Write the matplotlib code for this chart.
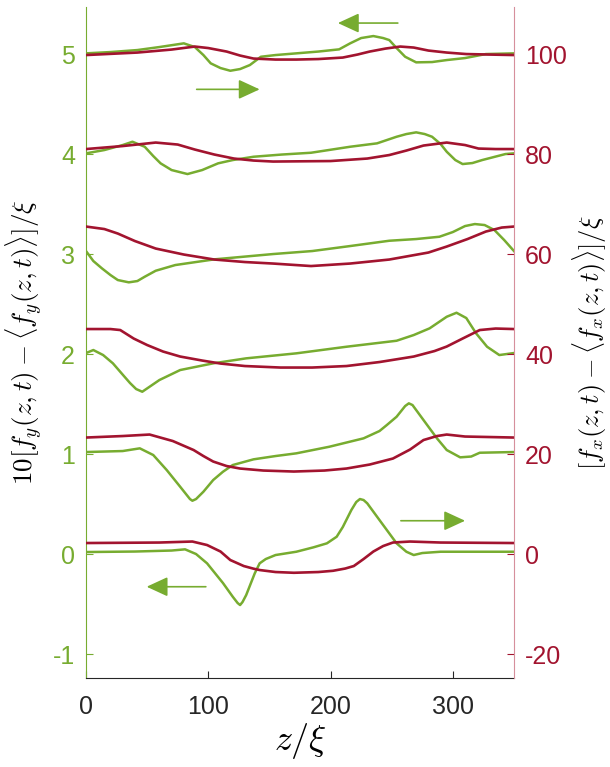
import matplotlib
matplotlib.use("Agg")
import matplotlib.pyplot as plt

plt.rcParams['font.family'] = ['Liberation Sans', 'DejaVu Sans']
plt.rcParams['mathtext.fontset'] = 'cm'
plt.rcParams['axes.unicode_minus'] = False

GREEN = '#77AC30'
RED = '#A2142F'
DARK = '#262626'

# transverse deviation, 10[f_y - <f_y>]/xi, one trace per time step (offset by 1)
z_fy0 = [0, 40, 70, 81, 90, 99, 112, 120, 124, 126, 128, 131, 138, 142, 147, 155, 172, 186, 197, 205, 210, 217, 221, 224, 227, 230, 240, 254, 262, 268, 275, 290, 350]
fy0 = [0.02, 0.025, 0.035, 0.047, 0.0, -0.093, -0.29, -0.427, -0.49, -0.51, -0.48, -0.41, -0.193, -0.093, -0.05, -0.01, 0.023, 0.067, 0.107, 0.173, 0.27, 0.44, 0.52, 0.55, 0.54, 0.507, 0.34, 0.107, 0.023, -0.01, 0.01, 0.023, 0.023]

z_fy1 = [0, 30, 44, 55, 66, 77, 85, 87, 90, 96, 104, 112, 120, 137, 155, 172, 199, 227, 240, 246, 254, 261, 264, 267, 270, 279, 287, 295, 306, 315, 322, 350]
fy1 = [1.02, 1.03, 1.057, 0.99, 0.84, 0.673, 0.55, 0.533, 0.55, 0.623, 0.74, 0.823, 0.89, 0.947, 0.98, 1.007, 1.073, 1.157, 1.23, 1.29, 1.373, 1.48, 1.507, 1.49, 1.44, 1.29, 1.157, 1.04, 0.967, 0.975, 1.013, 1.02]

z_fy2 = [0, 6, 14, 22, 31, 36, 41, 46, 52, 60, 77, 104, 131, 172, 213, 254, 268, 281, 295, 303, 311, 319, 328, 338, 350]
fy2 = [2.01, 2.04, 1.99, 1.907, 1.78, 1.71, 1.65, 1.623, 1.673, 1.74, 1.84, 1.907, 1.957, 2.007, 2.073, 2.133, 2.19, 2.257, 2.373, 2.413, 2.36, 2.207, 2.073, 1.99, 2.01]

z_fy3 = [0, 6, 13, 20, 26, 35, 42, 48, 57, 73, 105, 153, 185, 216, 248, 270, 289, 300, 310, 318, 326, 334, 342, 350]
fy3 = [3.03, 2.93, 2.857, 2.79, 2.74, 2.717, 2.73, 2.773, 2.833, 2.89, 2.947, 3.0, 3.03, 3.08, 3.133, 3.15, 3.173, 3.22, 3.28, 3.3, 3.29, 3.24, 3.14, 3.03]

z_fy4 = [0, 15, 30, 38, 48, 55, 61, 70, 83, 95, 108, 120, 137, 160, 184, 216, 238, 254, 262, 270, 277, 283, 290, 295, 302, 308, 316, 324, 343, 350]
fy4 = [4.007, 4.04, 4.09, 4.123, 4.073, 3.98, 3.907, 3.84, 3.8, 3.84, 3.907, 3.94, 3.973, 3.995, 4.013, 4.073, 4.107, 4.173, 4.2, 4.217, 4.2, 4.173, 4.1, 4.023, 3.94, 3.9, 3.91, 3.94, 4.0, 4.007]

z_fy5 = [0, 20, 42, 60, 80, 89, 96, 102, 110, 118, 126, 134, 143, 155, 172, 190, 207, 216, 225, 235, 243, 248, 254, 261, 270, 283, 295, 310, 327, 350]
fy5 = [5.007, 5.02, 5.04, 5.07, 5.107, 5.07, 4.99, 4.907, 4.86, 4.833, 4.85, 4.89, 4.973, 4.99, 5.007, 5.025, 5.047, 5.107, 5.16, 5.18, 5.16, 5.14, 5.06, 4.973, 4.917, 4.92, 4.94, 4.96, 5.0, 5.007]

# longitudinal deviation, [f_x - <f_x>]/xi (offset by 20)
z_fx0 = [0, 60, 87, 99, 110, 118, 129, 137, 142, 155, 170, 190, 202, 212, 219, 227, 235, 243, 251, 265, 290, 350]
fx0 = [2.2, 2.3, 2.5, 1.8, 0.5, -1.2, -2.4, -2.93, -3.2, -3.6, -3.75, -3.6, -3.35, -2.9, -2.4, -1.0, 0.5, 1.6, 2.3, 2.5, 2.3, 2.2]

z_fx1 = [0, 30, 52, 71, 88, 96, 104, 115, 126, 145, 170, 195, 213, 232, 251, 265, 276, 287, 295, 310, 350]
fx1 = [23.3, 23.6, 23.9, 22.6, 20.8, 19.6, 18.5, 17.6, 17.1, 16.7, 16.5, 16.7, 17.1, 17.9, 19.1, 20.9, 22.8, 23.6, 23.9, 23.5, 23.3]

z_fx2 = [0, 20, 28, 39, 50, 63, 77, 95, 110, 130, 159, 185, 213, 240, 268, 285, 295, 308, 322, 335, 350]
fx2 = [45.0, 45.0, 44.8, 43.1, 41.8, 40.5, 39.5, 38.7, 38.1, 37.6, 37.3, 37.3, 37.6, 38.4, 39.5, 40.6, 41.5, 43.1, 44.8, 45.1, 45.0]

z_fx3 = [0, 15, 26, 40, 57, 80, 105, 130, 153, 184, 216, 248, 264, 280, 295, 312, 327, 340, 350]
fx3 = [65.5, 65.0, 64.1, 62.6, 61.1, 59.9, 58.9, 58.4, 58.1, 57.6, 58.1, 58.9, 59.6, 60.3, 61.5, 63.0, 64.5, 65.3, 65.5]

z_fx4 = [0, 30, 57, 75, 89, 105, 121, 137, 153, 200, 230, 248, 262, 276, 295, 310, 321, 335, 350]
fx4 = [81.0, 81.6, 82.3, 81.9, 80.9, 79.9, 79.1, 78.7, 78.5, 78.6, 79.1, 79.8, 80.7, 81.7, 82.3, 81.8, 81.1, 81.0, 81.0]

z_fx5 = [0, 42, 70, 89, 100, 115, 126, 137, 155, 172, 190, 210, 222, 232, 245, 257, 268, 280, 295, 311, 330, 350]
fx5 = [99.8, 100.3, 100.9, 101.5, 101.2, 100.5, 99.7, 99.1, 98.9, 98.9, 99.0, 99.3, 99.9, 100.5, 101.1, 101.5, 101.3, 100.7, 100.3, 100.0, 99.9, 99.8]

# propagation direction arrows: (tail z, head z, level on left axis)
arrows = [(255, 206, 5.31), (90.5, 142, 4.647), (257.5, 310, 0.333), (98, 49.6, -0.327)]

left_ticks = [-1, 0, 1, 2, 3, 4, 5]
right_ticks = [-20, 0, 20, 40, 60, 80, 100]
x_ticks = [0, 100, 200, 300]

fig = plt.figure(figsize=(6.1, 7.67), dpi=100)
ax = fig.add_axes([0.141, 0.116, 0.7016, 0.8748])
ax2 = ax.twinx()

for z, f in [(z_fy0, fy0), (z_fy1, fy1), (z_fy2, fy2), (z_fy3, fy3), (z_fy4, fy4), (z_fy5, fy5)]:
    ax.plot(z, f, color=GREEN, lw=1.8, solid_joinstyle='round')
for z, f in [(z_fx0, fx0), (z_fx1, fx1), (z_fx2, fx2), (z_fx3, fx3), (z_fx4, fx4), (z_fx5, fx5)]:
    ax2.plot(z, f, color=RED, lw=1.9, solid_joinstyle='round')

for tail, head, lev in arrows:
    ax.annotate('', xy=(head, lev), xytext=(tail, lev),
                arrowprops=dict(arrowstyle='-|>,head_length=0.65,head_width=0.3',
                                color=GREEN, lw=1.2, mutation_scale=20,
                                shrinkA=0, shrinkB=0))

ax.set_xlim(0, 350)
ax.set_ylim(-1.24, 5.47)
ax2.set_ylim(-24.8, 109.4)

ax.set_xticks(x_ticks)
ax.set_yticks(left_ticks)
ax2.set_yticks(right_ticks)

for s in ['top', 'right']:
    ax.spines[s].set_visible(False)
for s in ['top', 'left', 'bottom']:
    ax2.spines[s].set_visible(False)
ax.spines['left'].set_color(GREEN)
ax.spines['bottom'].set_color(DARK)
ax2.spines['right'].set_color('#D68F9C')

ax.tick_params(axis='y', colors=GREEN, direction='in', length=5, labelsize=18, pad=8)
ax.tick_params(axis='x', colors=DARK, direction='in', length=5, labelsize=18, pad=12)
ax2.tick_params(axis='y', colors=RED, direction='in', length=5, labelsize=18, pad=8)

ax.set_xlabel(r'$z/\xi$', fontsize=26, color='black', labelpad=2)
ax.set_ylabel(r'$10[f_y(z,t) - \langle f_y(z,t)\rangle]/\xi$', fontsize=19.5, color='black', labelpad=6)
ax2.set_ylabel(r'$[f_x(z,t) - \langle f_x(z,t)\rangle]/\xi$', fontsize=19, color='black', labelpad=3)

fig.savefig('out.png', dpi=100)
